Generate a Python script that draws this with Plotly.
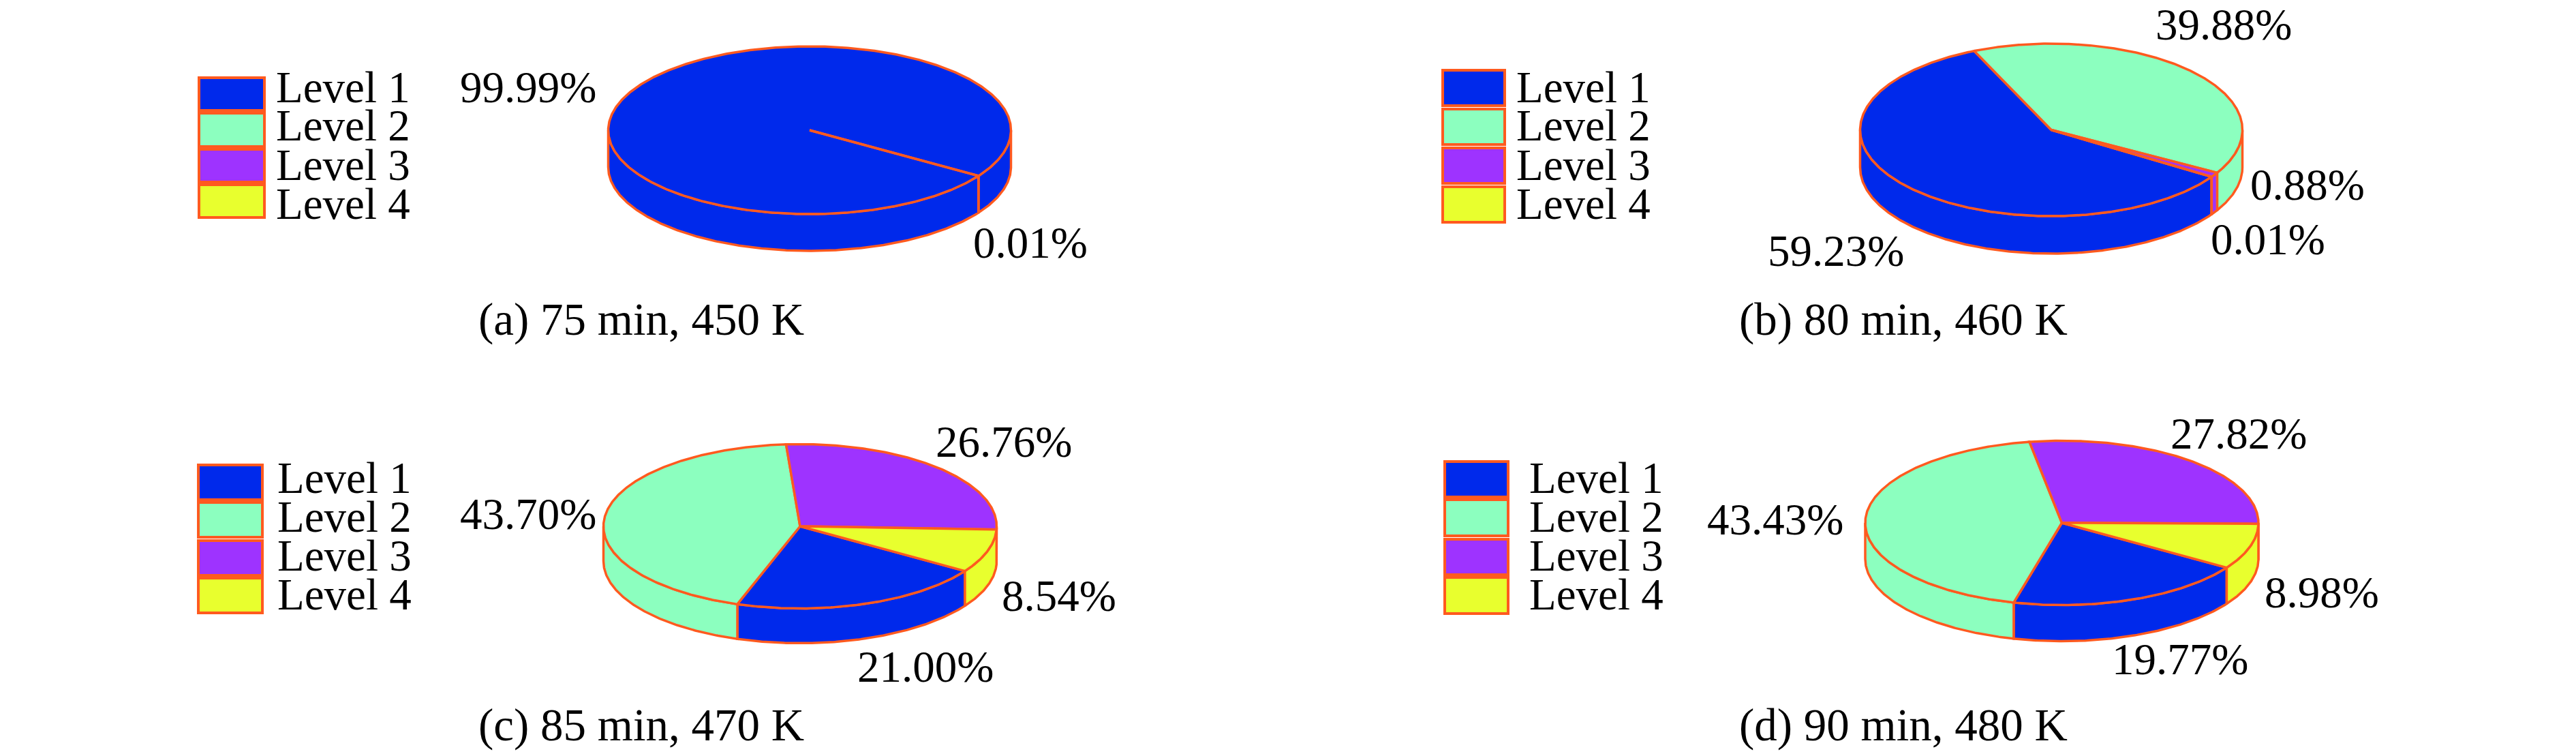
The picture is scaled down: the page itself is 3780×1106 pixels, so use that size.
import numpy as np
import plotly.graph_objects as go

levels = ["Level 1", "Level 2", "Level 3", "Level 4"]
colors = ["#0029EB", "#8CFFBF", "#9E33FF", "#E8FF2E"]
edge = "#FF5A1F"

values_a = [99.99, 0.01, 0, 0]
values_b = [59.23, 39.88, 0.88, 0.01]
values_c = [21.00, 43.70, 26.76, 8.54]
values_d = [19.77, 43.43, 27.82, 8.98]

caption_a = "(a) 75 min, 450 K"
caption_b = "(b) 80 min, 460 K"
caption_c = "(c) 85 min, 470 K"
caption_d = "(d) 90 min, 480 K"

START = 33.0
FONT = 65
CAPTION_FONT = 67
BODY_MARGIN = 8  # the page's default body margin

panels = [
    dict(v=values_a, cap=caption_a, c=(1188, 191), r=(295.5, 123), depth=54,
         swx=(292, 388), swy=[(114, 162), (166, 215), (219, 267), (271, 319)],
         lx=404, lb=[151, 207, 265, 322],
         labs=[(0, 674, 151), (1, 1427, 379)], capxy=(701, 492)),
    dict(v=values_b, cap=caption_b, c=(3010, 190.5), r=(280.5, 126.5), depth=55,
         swx=(2117, 2208), swy=[(103, 155), (160, 212), (217, 269), (274, 326)],
         lx=2224, lb=[151, 207, 265, 322],
         labs=[(0, 2593, 391), (1, 3162, 59), (2, 3301, 294), (3, 3243, 374)], capxy=(2551, 492)),
    dict(v=values_c, cap=caption_c, c=(1174, 772), r=(288.5, 120.5), depth=51,
         swx=(291, 385), swy=[(682, 733), (737, 788), (793, 844), (848, 899)],
         lx=406, lb=[724, 781, 838, 895],
         labs=[(0, 1257, 1001), (1, 674, 777), (2, 1372, 671), (3, 1469, 897)], capxy=(701, 1087)),
    dict(v=values_d, cap=caption_d, c=(3025.5, 767), r=(288.5, 120.5), depth=53,
         swx=(2120, 2213), swy=[(677, 729), (733, 786), (791, 843), (847, 900)],
         lx=2243, lb=[724, 781, 838, 895],
         labs=[(0, 3098, 990), (1, 2504, 785), (2, 3184, 659), (3, 3322, 892)], capxy=(2551, 1087)),
]

fig = go.Figure()
shapes, annos = [], []


def text(x, baseline, s, size=FONT):
    annos.append(dict(x=x, y=baseline + 0.22 * size, text=s, xref="x", yref="y", showarrow=False,
                      xanchor="left", yanchor="bottom", borderpad=0,
                      font=dict(family="Liberation Serif", size=size, color="black")))


def poly(x, y, color, name):
    fig.add_trace(go.Scatter(x=x, y=y, mode="lines", fill="toself", fillcolor=color, name=name,
                             line=dict(color=edge, width=3.5), showlegend=False, hoverinfo="name"))


for p in panels:
    cx, cy = p["c"]
    rx, ry = p["r"]
    angles = START + 360 * np.cumsum([0] + list(p["v"])) / sum(p["v"])
    # outer wall, front half only
    for i, lev in enumerate(levels):
        a0, a1 = angles[i], angles[i + 1]
        if a1 <= a0:
            continue
        for lo, hi in ((0, 180), (360, 540)):
            s, e = max(a0, lo), min(a1, hi)
            if e <= s:
                continue
            t = np.radians(np.linspace(s, e, max(2, int((e - s) * 2) + 1)))
            xs = cx + rx * np.cos(t)
            ys = cy + ry * np.sin(t)
            poly(list(xs) + list(xs[::-1]) + [xs[0]],
                 list(ys) + list(ys[::-1] + p["depth"]) + [ys[0]], colors[i], lev)
    # top sectors
    for i, lev in enumerate(levels):
        a0, a1 = angles[i], angles[i + 1]
        if a1 <= a0:
            continue
        t = np.radians(np.linspace(a0, a1, max(2, int((a1 - a0) * 2) + 1)))
        poly([cx] + list(cx + rx * np.cos(t)) + [cx],
             [cy] + list(cy + ry * np.sin(t)) + [cy], colors[i], lev)
    # key
    for i, lev in enumerate(levels):
        y0, y1 = p["swy"][i]
        shapes.append(dict(type="rect", xref="x", yref="y", x0=p["swx"][0], x1=p["swx"][1],
                           y0=y0, y1=y1, fillcolor=colors[i], line=dict(color=edge, width=4)))
        text(p["lx"], p["lb"][i], lev)
    for i, x, b in p["labs"]:
        text(x, b, f"{p['v'][i]:.2f}%")
    text(p["capxy"][0], p["capxy"][1], p["cap"], CAPTION_FONT)

fig.update_layout(width=3780 - BODY_MARGIN, height=1106 - BODY_MARGIN,
                  margin=dict(l=0, r=0, t=0, b=0),
                  paper_bgcolor="white", plot_bgcolor="white", shapes=shapes, annotations=annos,
                  xaxis=dict(range=[BODY_MARGIN, 3780], visible=False, fixedrange=True),
                  yaxis=dict(range=[1106, BODY_MARGIN], visible=False, fixedrange=True))
fig.write_html("out.html")
